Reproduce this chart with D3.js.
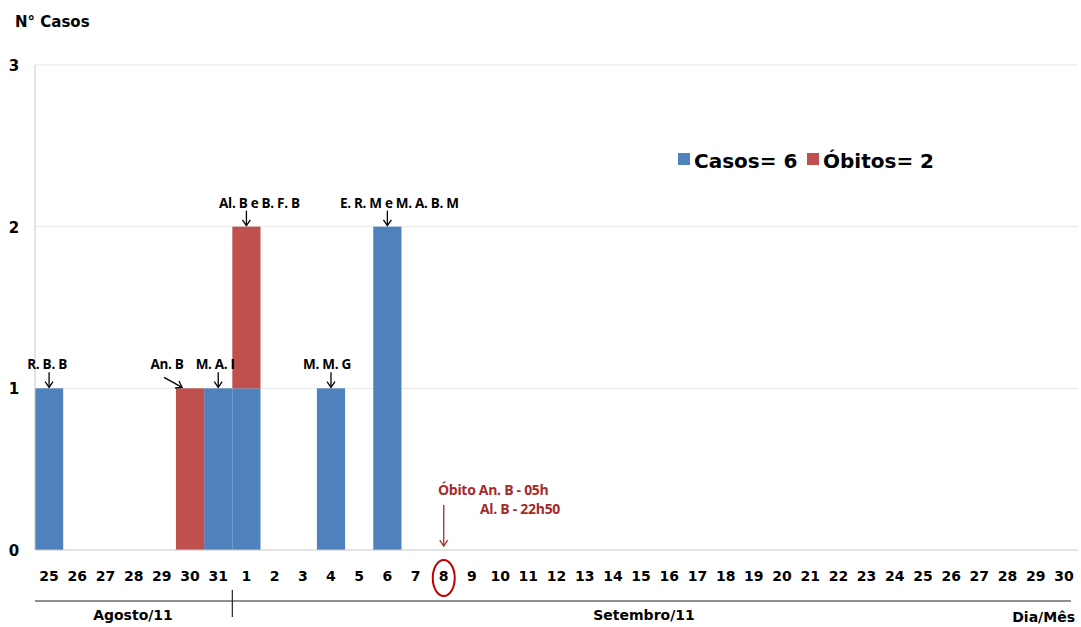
<!DOCTYPE html>
<html>
<head>
<meta charset="utf-8">
<script src="https://cdn.jsdelivr.net/npm/d3@7"></script>
<style>
  html, body { margin: 0; padding: 0; background: #fff; }
  svg { display: block; font-family: "DejaVu Sans", Arial, sans-serif; }
</style>
</head>
<body>
<svg id="chart" width="1081" height="627"></svg>
<script>
// Days shown on the axis (25–31 August, 1–30 September 2011)
const days = ["25","26","27","28","29","30","31",
  "1","2","3","4","5","6","7","8","9","10","11","12","13","14","15",
  "16","17","18","19","20","21","22","23","24","25","26","27","28","29","30"];
const dayKeys = days.map((d, i) => (i < 7 ? "ago-" : "set-") + d);

// Cases and deaths per day
const casos  = [1,0,0,0,0,0,1, 1,0,0,1,0,2,0,0,0,0,0,0,0,0,0,0,0,0,0,0,0,0,0,0,0,0,0,0,0,0];
const obitos = [0,0,0,0,0,1,0, 1,0,0,0,0,0,0,0,0,0,0,0,0,0,0,0,0,0,0,0,0,0,0,0,0,0,0,0,0,0];

const seriesNames = ["Casos", "Óbitos"];
const seriesColors = ["#4f81bd", "#c0504d"];
const legendLabels = ["Casos= 6", "Óbitos= 2"];
const yTicks = [0, 1, 2, 3];

// Case initials pointed at on the bars
const notes = [
  { text: "R. B. B", day: "ago-25" },
  { text: "An. B", day: "ago-30" },
  { text: "M. A. I", day: "ago-31" },
  { text: "Al. B e B. F. B", day: "set-1" },
  { text: "M. M. G", day: "set-4" },
  { text: "E. R. M e M. A. B. M", day: "set-6" }
];
const deathNote = ["Óbito An. B -  05h", "Al.  B - 22h50"];
const deathDay = "set-8";

const months = ["Agosto/11", "Setembro/11"];

const svg = d3.select("#chart");
const m = { left: 35, right: 3, top: 65, bottom: 77 };
const W = 1081, H = 627;

const x = d3.scaleBand().domain(dayKeys).range([m.left, W - m.right]).padding(0);
const y = d3.scaleLinear().domain([0, 3]).range([H - m.bottom, m.top]);

const table = dayKeys.map((k, i) => ({ key: k, Casos: casos[i], "Óbitos": obitos[i] }));
const stacked = d3.stack().keys(seriesNames)(table);

// gridlines
svg.append("g")
  .selectAll("line").data(yTicks.filter(t => t > 0)).join("line")
  .attr("x1", m.left).attr("x2", W - m.right)
  .attr("y1", d => y(d)).attr("y2", d => y(d))
  .attr("stroke", "#e6e6e6").attr("stroke-width", 1);

// bars
svg.append("g").selectAll("g").data(stacked).join("g")
  .attr("fill", (d, i) => seriesColors[i])
  .selectAll("rect").data(d => d.filter(s => s[1] > s[0])).join("rect")
  .attr("x", d => x(d.data.key))
  .attr("width", x.bandwidth())
  .attr("y", d => y(d[1]))
  .attr("height", d => y(d[0]) - y(d[1]));

// axis lines
svg.append("line")
  .attr("x1", m.left).attr("x2", m.left)
  .attr("y1", y(3)).attr("y2", y(0))
  .attr("stroke", "#c8c8c8");
svg.append("line")
  .attr("x1", m.left).attr("x2", W - m.right)
  .attr("y1", y(0)).attr("y2", y(0))
  .attr("stroke", "#c8c8c8");

const bold = sel => sel.attr("font-weight", "bold").attr("fill", "#000")
  .style("font-family", "'DejaVu Sans', Arial, sans-serif");

// y tick labels
const yAxis = d3.axisLeft(y).tickValues(yTicks).tickSize(0).tickFormat(d3.format("d"));
const ya = svg.append("g").attr("transform", `translate(${m.left},0)`).call(yAxis);
ya.select(".domain").remove();
ya.selectAll("text")
  .attr("x", -21).attr("text-anchor", "middle").attr("dx", 0).attr("dy", "0.36em")
  .style("font-size", "15px").call(bold);
ya.selectAll("text").attr("x", -21);

// x tick labels
const xAxis = d3.axisBottom(x).tickSize(0).tickFormat((d, i) => days[i]);
const xa = svg.append("g").attr("transform", `translate(0,${y(0)})`).call(xAxis);
xa.select(".domain").remove();
xa.selectAll("text")
  .attr("y", 21)
  .style("font-size", "14px").call(bold);

// month band under the axis
const monthY = 601;
svg.append("line")
  .attr("x1", m.left).attr("x2", W - 10)
  .attr("y1", monthY).attr("y2", monthY)
  .attr("stroke", "#222").attr("stroke-width", 1.2);
svg.append("line")
  .attr("x1", x("set-1")).attr("x2", x("set-1"))
  .attr("y1", 590).attr("y2", 617)
  .attr("stroke", "#222").attr("stroke-width", 1.2);
svg.append("text").attr("x", 133).attr("y", 620)
  .attr("text-anchor", "middle").attr("font-size", 14).call(bold)
  .text(months[0]);
svg.append("text").attr("x", 644).attr("y", 620)
  .attr("text-anchor", "middle").attr("font-size", 14).call(bold)
  .text(months[1]);
svg.append("text").attr("x", 1075).attr("y", 622)
  .attr("text-anchor", "end").attr("font-size", 14).call(bold)
  .text("Dia/Mês");

// y axis title
svg.append("text").attr("x", 15).attr("y", 27)
  .attr("font-size", 15).call(bold)
  .text("N° Casos");

// legend
const legend = svg.append("g").attr("transform", "translate(678,0)");
[0, 129].forEach((dx, i) => {
  legend.append("rect").attr("x", dx).attr("y", 153).attr("width", 12).attr("height", 12)
    .attr("fill", seriesColors[i]);
  legend.append("text").attr("x", dx + 16).attr("y", 168)
    .attr("font-size", 20).call(bold)
    .text(legendLabels[i]);
});

// annotations with arrows
const noteFont = "'Open Sans', Arial, sans-serif";
const stackTop = k => { const t = table.find(r => r.key === k); return y(t.Casos + t["Óbitos"]); };
const arrow = (g, x1, y1, x2, y2, color) => {
  const ang = Math.atan2(y2 - y1, x2 - x1);
  const L = 7, a = 0.6;
  g.append("line").attr("x1", x1).attr("y1", y1).attr("x2", x2).attr("y2", y2)
    .attr("stroke", color).attr("stroke-width", 1.3);
  g.append("path")
    .attr("d", `M${x2 - L * Math.cos(ang - a)},${y2 - L * Math.sin(ang - a)} L${x2},${y2} L${x2 - L * Math.cos(ang + a)},${y2 - L * Math.sin(ang + a)}`)
    .attr("fill", "none").attr("stroke", color).attr("stroke-width", 1.3);
};
const ann = svg.append("g");
// per-note placement: text x offset from the bar centre, arrow style
const place = {
  "ago-25": { tx: -2, diag: false },
  "ago-30": { tx: -23, diag: true },
  "ago-31": { tx: -3, diag: false },
  "set-1":  { tx: 13, diag: false },
  "set-4":  { tx: -4, diag: false },
  "set-6":  { tx: 12, diag: false }
};
notes.forEach(n => {
  const cx = x(n.day) + x.bandwidth() / 2;
  const top = stackTop(n.day);
  const p = place[n.day];
  ann.append("text").attr("x", cx + p.tx).attr("y", top - 19)
    .attr("text-anchor", "middle").attr("font-weight", "bold").attr("font-size", 13.5)
    .attr("letter-spacing", -0.3)
    .style("font-family", noteFont).attr("fill", "#000")
    .text(n.text);
  if (p.diag) {
    arrow(ann, cx - 26, top - 11, cx - 8, top - 1, "#000");
  } else {
    arrow(ann, cx, top - 16, cx, top - 1, "#000");
  }
});

// death marker on 8 September
const dRed = "#a52a2a";
const dx8 = x(deathDay) + x.bandwidth() / 2;
arrow(ann, dx8, 505, dx8, 546, dRed);
svg.append("ellipse").attr("cx", dx8).attr("cy", 578).attr("rx", 11).attr("ry", 18)
  .attr("fill", "none").attr("stroke", "#c00000").attr("stroke-width", 2);
svg.append("text").attr("x", 438).attr("y", 495)
  .attr("font-weight", "bold").attr("font-size", 14).attr("letter-spacing", -0.3)
  .style("font-family", noteFont)
  .attr("fill", dRed).text(deathNote[0]);
svg.append("text").attr("x", 480).attr("y", 514)
  .attr("font-weight", "bold").attr("font-size", 14).attr("letter-spacing", -0.3)
  .style("font-family", noteFont)
  .attr("fill", dRed).text(deathNote[1]);
</script>
</body>
</html>
